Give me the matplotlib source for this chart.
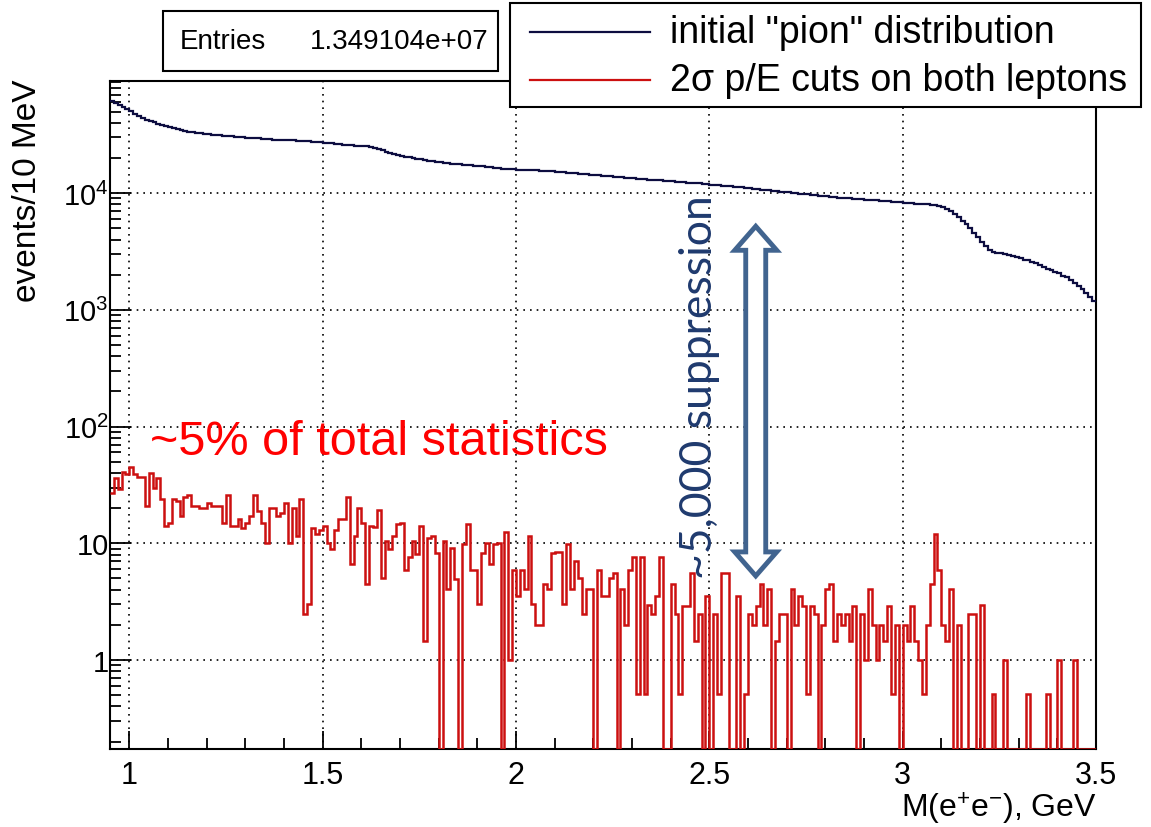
import numpy as np
import matplotlib
matplotlib.use("Agg")
import matplotlib.pyplot as plt
from matplotlib.patches import Rectangle, Polygon
from matplotlib.lines import Line2D
from matplotlib.ticker import FixedLocator, FixedFormatter, MultipleLocator, LogLocator, NullFormatter
from matplotlib.transforms import IdentityTransform

W, H = 1151, 828

# 10 MeV bins from 0.95 to 3.5 GeV
bin_lo = 0.95
bin_w = 0.01

# initial "pion" distribution, events per bin
pion = [
    61000, 59000, 57000, 55000, 53000, 50500, 48000, 46000, 44000, 42500,
    41500, 40500, 39500, 38500, 37500, 36700, 36000, 35300, 34700, 34200,
    33700, 33300, 32900, 32600, 32300, 32000, 31700, 31500, 31300, 31100,
    30900, 30700, 30500, 30300, 30100, 29900, 29700, 29600, 29400, 29200,
    29100, 28900, 28800, 28700, 28600, 28500, 28400, 28300, 28200, 28100,
    28000, 27800, 27600, 27400, 27300, 27100, 26900, 26700, 26500, 26300,
    26100, 25900, 25700, 25600, 25400, 25300, 25200, 25000, 24500, 24000,
    23300, 22700, 22200, 21700, 21300, 20900, 20600, 20300, 20000, 19700,
    19500, 19300, 19000, 18800, 18600, 18400, 18200, 18000, 17800, 17700,
    17600, 17500, 17400, 17300, 17200, 17100, 17000, 16900, 16700, 16500,
    16300, 16200, 16100, 16000, 15950, 15900, 15850, 15800, 15750, 15700,
    15650, 15600, 15550, 15500, 15400, 15300, 15200, 15100, 15000, 14900,
    14800, 14700, 14600, 14500, 14400, 14300, 14200, 14100, 14000, 13900,
    13850, 13800, 13700, 13600, 13500, 13400, 13300, 13250, 13150, 13050,
    13000, 12900, 12850, 12800, 12700, 12600, 12550, 12450, 12400, 12300,
    12250, 12200, 12100, 12000, 11950, 11850, 11750, 11700, 11600, 11500,
    11450, 11400, 11300, 11200, 11100, 11000, 10900, 10800, 10700, 10650,
    10550, 10500, 10400, 10300, 10250, 10150, 10050, 9950, 9900, 9800,
    9750, 9650, 9600, 9500, 9450, 9400, 9300, 9250, 9150, 9100,
    9050, 9000, 8950, 8900, 8850, 8800, 8750, 8700, 8650, 8600,
    8550, 8500, 8450, 8400, 8350, 8300, 8250, 8200, 8150, 8100,
    8050, 8000, 7950, 7900, 7800, 7600, 7300, 7000, 6600, 6200,
    5800, 5400, 5000, 4600, 4200, 3800, 3500, 3250, 3150, 3100,
    3050, 3000, 2950, 2900, 2850, 2800, 2700, 2650, 2550, 2500,
    2400, 2350, 2250, 2200, 2100, 2050, 1950, 1900, 1800, 1700,
    1600, 1500, 1400, 1300, 1200,
]

# after 2 sigma p/E cuts on both leptons
cuts = [
    27, 36, 29, 41, 39, 45, 39, 37, 37, 21,
    40, 30, 36, 24, 14, 15, 24, 23, 17, 25,
    26, 21, 21, 20, 20, 22, 21, 21, 21, 15,
    26, 14, 14, 16, 13.5, 15, 17, 26, 19, 15,
    10, 20, 20, 17, 18, 22, 10, 20, 11.5, 24,
    2.5, 3, 13.5, 12, 13, 14, 10, 9, 13, 16,
    16, 25, 6.6, 11.6, 20, 14.8, 4.5, 14.1, 13.9, 19.3,
    5.0, 10.4, 9.0, 11.6, 14.6, 15, 5.9, 7.6, 10.4, 8.1,
    14, 1.46, 11.2, 11.6, 8.2, 0, 10.4, 4.06, 9.1, 4.9,
    0, 9.8, 14.6, 5.9, 5.9, 3.0, 8.2, 10, 6.6, 9.8,
    10, 0, 12.4, 1.0, 5.9, 3.56, 5.9, 4.06, 11.6, 3.0,
    2.0, 2.0, 4.5, 4.06, 8.2, 8.4, 8.4, 3.0, 9.8, 4.06,
    7.1, 5.0, 2.5, 4.06, 4.06, 0, 5.9, 3.56, 3.56, 5.0,
    5.6, 0, 4.06, 2.0, 5.9, 7.6, 0.51, 7.6, 0.51, 2.96,
    2.48, 3.56, 7.6, 0, 0, 4.5, 2.5, 0.51, 2.92, 2.92,
    5.6, 1.46, 2.48, 0, 3.56, 0, 2.48, 0.51, 5.6, 5.6,
    0, 0, 3.56, 0, 0.51, 2.48, 2.0, 2.92, 4.48, 2.0,
    4.06, 0, 1.46, 2.48, 2.48, 0, 4.06, 2.0, 3.56, 2.92,
    0.51, 2.92, 2.48, 0, 2.0, 4.06, 4.48, 1.46, 2.48, 2.0,
    2.48, 1.46, 2.92, 0, 2.48, 1.0, 4.06, 2.0, 1.0, 2.0,
    1.46, 2.92, 0.51, 2.0, 0, 2.0, 1.46, 2.92, 1.46, 1.0,
    0.51, 2.0, 4.48, 12, 5.9, 2.0, 1.46, 4.06, 0, 2.0,
    0, 0, 2.48, 2.48, 0, 2.96, 0, 0, 0.51, 0,
    0, 1.0, 0, 0, 0, 0, 0, 0.51, 0, 0,
    0, 0, 0.51, 0, 0, 1.0, 0, 0, 0, 1.0,
    0, 0, 0, 0, 0,
]

x_ticks = [1.0, 1.5, 2.0, 2.5, 3.0, 3.5]
x_tick_labels = ["1", "1.5", "2", "2.5", "3", "3.5"]
y_ticks = [1, 10, 100, 1000, 10000]
y_tick_labels = ["1", "10", "$10^{2}$", "$10^{3}$", "$10^{4}$"]

entries = "1.349104e+07"
legend_labels = ['initial "pion" distribution', "2\u03c3 p/E cuts on both leptons"]

# suppression arrow runs between these two levels
arrow_x = 2.62
arrow_top = 5200
arrow_bottom = 5.25

x_min, x_max = 0.95, 3.5
y_min, y_max = 0.1726, 91400

navy = "#0d0d40"
red_line = "#cc1010"

plt.rcParams["font.family"] = ["Liberation Sans", "DejaVu Sans"]
plt.rcParams["mathtext.fontset"] = "custom"
plt.rcParams["mathtext.rm"] = "Liberation Sans"
plt.rcParams["mathtext.it"] = "Liberation Sans:italic"


def fx(px):
    return px / W


def fy(py):
    return 1 - py / H


fig = plt.figure(figsize=(W / 100, H / 100), dpi=100)
ax = fig.add_axes([fx(110), fy(750), fx(1096) - fx(110), fy(82) - fy(750)])

edges = np.round(bin_lo + bin_w * np.arange(len(pion) + 1), 3)
pion_arr = np.array(pion, dtype=float)
cuts_arr = np.array(cuts, dtype=float)
# empty bins are drawn down onto the frame, like ROOT does
cuts_draw = np.where(cuts_arr > 0, cuts_arr, y_min)

ax.stairs(pion_arr, edges, baseline=None, color=navy, lw=1.6, zorder=3)
ax.stairs(cuts_draw, edges, baseline=None, color=red_line, lw=1.8, zorder=4)

ax.set_yscale("log")
ax.set_xlim(x_min, x_max)
ax.set_ylim(y_min, y_max)

ax.xaxis.set_major_locator(FixedLocator(x_ticks))
ax.xaxis.set_major_formatter(FixedFormatter(x_tick_labels))
ax.xaxis.set_minor_locator(MultipleLocator(0.1))
ax.yaxis.set_major_locator(FixedLocator(y_ticks))
ax.yaxis.set_major_formatter(FixedFormatter(y_tick_labels))
ax.yaxis.set_minor_locator(LogLocator(base=10, subs=np.arange(2, 10)))
ax.yaxis.set_minor_formatter(NullFormatter())

ax.tick_params(axis="both", which="both", direction="in", top=False, right=False,
               width=1.3, colors="black")
ax.tick_params(axis="y", which="major", length=15, pad=1, labelsize=21)
ax.tick_params(axis="y", which="minor", length=8)
ax.tick_params(axis="x", which="major", length=13, pad=8, labelsize=22)
ax.tick_params(axis="x", which="minor", length=8)

ax.grid(True, which="major", color="black", linestyle=(0, (1, 3)), lw=1.2)
for s in ax.spines.values():
    s.set_linewidth(1.5)

fig.text(fx(28), fy(80), "events/10 MeV", rotation=90, ha="center", va="top", fontsize=24)
fig.text(fx(1097), fy(809), "M(e$^{+}$e$^{-}$), GeV", ha="right", va="center", fontsize=23)

# stats box
fig.add_artist(Rectangle((fx(163), fy(72)), fx(498) - fx(163), fy(12) - fy(72),
                         transform=fig.transFigure, facecolor="white",
                         edgecolor="black", lw=1.5, zorder=10))
fig.text(fx(180), fy(42), "Entries", ha="left", va="center", fontsize=20, zorder=11)
fig.text(fx(488), fy(42), entries, ha="right", va="center", fontsize=20, zorder=11)

# legend box
fig.add_artist(Rectangle((fx(510), fy(108)), fx(1141) - fx(510), fy(4) - fy(108),
                         transform=fig.transFigure, facecolor="white",
                         edgecolor="black", lw=1.5, zorder=10))
for label, color, py in zip(legend_labels, [navy, red_line], [33, 81]):
    fig.add_artist(Line2D([fx(530), fx(650)], [fy(py), fy(py)], transform=fig.transFigure,
                          color=color, lw=1.6, zorder=11))
    fig.text(fx(670), fy(py), label, ha="left", va="center", fontsize=27, zorder=11)

# annotations
fig.text(fx(150), fy(455), "~5% of total statistics", color="#ff0000",
         ha="left", va="baseline", fontsize=35)
fig.text(fx(699), fy(387), "~5,000 suppression", color="#1f3a6e", family="Lato",
         rotation=90, ha="center", va="center", fontsize=32)

# hollow double-headed arrow (built in pixels around the data anchors)
cx, ytop = ax.transData.transform((arrow_x, arrow_top))
_, ybot = ax.transData.transform((arrow_x, arrow_bottom))
hs, hh, hl = 10, 21, 24
pts = [
    (cx, ytop), (cx + hh, ytop - hl), (cx + hs, ytop - hl),
    (cx + hs, ybot + hl), (cx + hh, ybot + hl), (cx, ybot),
    (cx - hh, ybot + hl), (cx - hs, ybot + hl), (cx - hs, ytop - hl),
    (cx - hh, ytop - hl),
]
fig.add_artist(Polygon(pts, closed=True, transform=IdentityTransform(),
                       facecolor="white", edgecolor="#41648f", lw=3.5, zorder=6))

fig.savefig("out.png", dpi=100)
